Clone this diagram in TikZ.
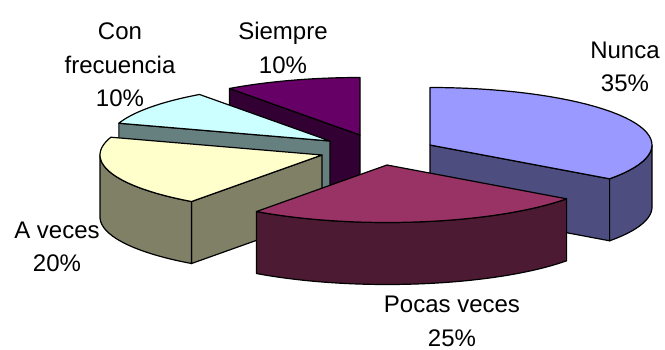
\documentclass[tikz,border=0pt]{standalone}
\usepackage{fontspec}
\setmainfont{Liberation Sans}
\definecolor{nuncaTop}{HTML}{9999FF}
\definecolor{nuncaSide}{HTML}{4D4D80}
\definecolor{pocasTop}{HTML}{993366}
\definecolor{pocasSide}{HTML}{4D1A33}
\definecolor{avecesTop}{HTML}{FFFFCC}
\definecolor{avecesSide}{HTML}{808066}
\definecolor{confrecTop}{HTML}{CCFFFF}
\definecolor{confrecSide}{HTML}{668080}
\definecolor{siempreTop}{HTML}{660066}
\definecolor{siempreSide}{HTML}{330033}
\def\rx{222}\def\ry{57.5}\def\dd{62}
\newcommand\radface[4]{%
 \filldraw[fill=#4] (#1,#2) -- ({#1+\rx*cos(#3)},{#2+\ry*sin(#3)}) -- ({#1+\rx*cos(#3)},{#2+\ry*sin(#3)-\dd}) -- (#1,{#2-\dd}) -- cycle;}
\newcommand\wallface[5]{%
 \filldraw[fill=#5] plot[domain=#3:#4,samples=40] ({#1+\rx*cos(\x)},{#2+\ry*sin(\x)}) -- plot[domain=#4:#3,samples=40] ({#1+\rx*cos(\x)},{#2+\ry*sin(\x)-\dd}) -- cycle;}
\newcommand\topface[5]{%
 \filldraw[fill=#5] (#1,#2) -- plot[domain=#3:#4,samples=40] ({#1+\rx*cos(\x)},{#2+\ry*sin(\x)}) -- cycle;}
\begin{document}
\begin{tikzpicture}[x=1pt,y=1pt,line width=1.2pt,line join=round,
  lbl/.style={anchor=base,align=center,inner sep=0pt,font=\fontsize{24}{33.4}\selectfont}]
\useasboundingbox (0,0) rectangle (665,349);
% Siempre
\radface{360}{214}{126}{siempreSide}
\topface{360}{214}{90}{126}{siempreTop}
% Con frecuencia
\radface{330}{208}{162}{confrecSide}
\topface{330}{208}{126}{162}{confrecTop}
% A veces
\radface{322}{194}{234}{avecesSide}
\wallface{322}{194}{180}{234}{avecesSide}
\topface{322}{194}{162}{234}{avecesTop}
% Nunca
\radface{430}{204}{-36}{nuncaSide}
\wallface{430}{204}{-36}{0}{nuncaSide}
\topface{430}{204}{-36}{90}{nuncaTop}
% Pocas veces
\wallface{387}{184}{-126}{-36}{pocasSide}
\topface{387}{184}{-126}{-36}{pocasTop}
% labels
\node[lbl] (lnunca) at (625,257.3) {Nunca\\35\%};
\node[lbl] (lpocas) at (452,3) {Pocas veces\\25\%};
\node[lbl] (laveces) at (57,77.3) {A veces\\20\%};
\node[lbl] (lconfrec) at (120,242.3) {Con\\frecuencia\\10\%};
\node[lbl] (lsiempre) at (283,275.7) {Siempre\\10\%};
\end{tikzpicture}
\end{document}
